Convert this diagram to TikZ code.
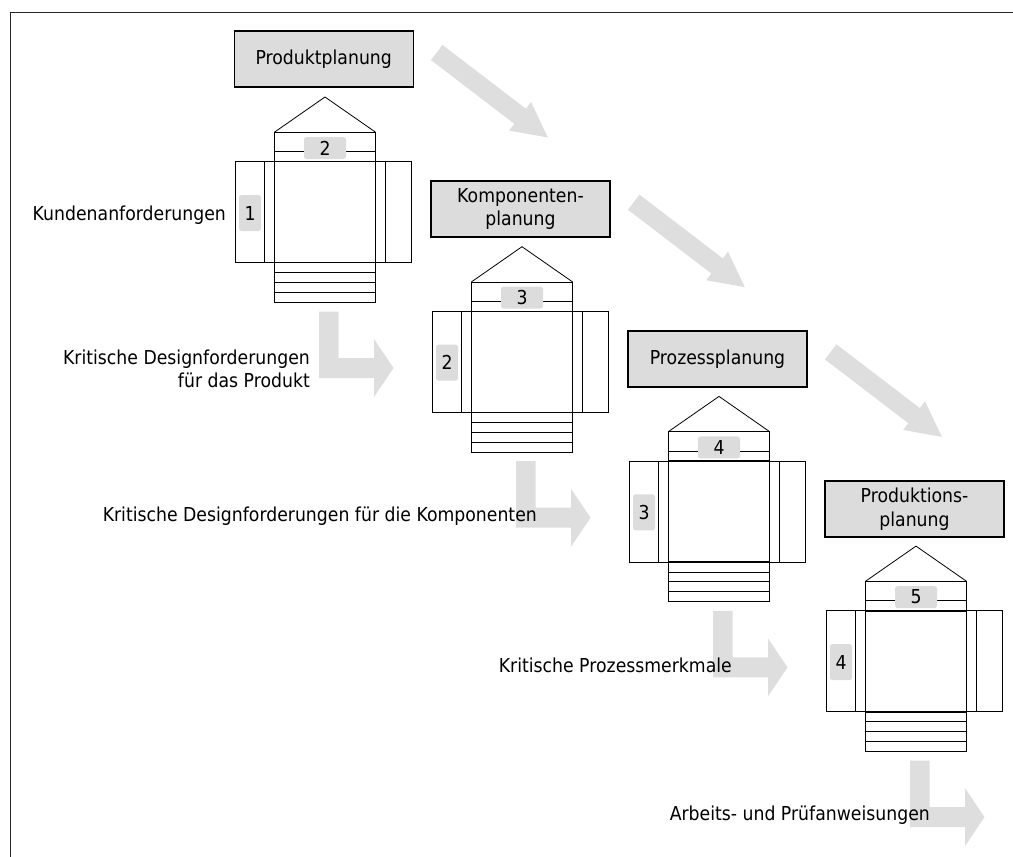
\documentclass[tikz,border=0pt]{standalone}
\usepackage{fontspec}
\setmainfont{DejaVu Sans}[FakeStretch=0.9]
\definecolor{boxgray}{RGB}{220,220,220}
\definecolor{arrgray}{RGB}{222,222,222}
\begin{document}
\begin{tikzpicture}[x=1pt,y=-1pt,
  txt/.style={font=\fontsize{19.2}{23.5}\selectfont, inner sep=0pt},
  hdr/.style={txt, draw=black, line width=1.2pt, fill=boxgray, minimum width=179pt, minimum height=56pt, align=center},
  lbl/.style={txt, fill=boxgray, rounded corners=2.5pt},
  ln/.style={line width=0.8pt, draw=black},
  sq/.style={line width=1.4pt, draw=black},
  garrow/.style={fill=arrgray, draw=none}]
\useasboundingbox (0,0) rectangle (1013,857);
% frame
\draw[line width=1.4pt, draw=black!85] (10.7,857) -- (10.7,12.3) -- (1013,12.3);
% diagonal arrows
\foreach \i in {0,1,2}{
  \begin{scope}[shift={({436.7+197*\i},{52.5+149.7*\i})}, rotate=-37.4]
    \fill[garrow] (0,-9.5) -- (105,-9.5) -- (105,-18) -- (140,0) -- (105,18) -- (105,9.5) -- (0,9.5) -- cycle;
  \end{scope}
}
% houses
\foreach \i/\a/\b in {0/1/2,1/2/3,2/3/4,3/4/5}{
  \begin{scope}[shift={({197*\i},{149.7*\i})}]
    % L arrow
    \fill[garrow] (319,311.5) -- (338.7,311.5) -- (338.7,358) -- (374,358) -- (374,339) -- (393.5,368) -- (374,397) -- (374,378) -- (319,378) -- cycle;
    % roof
    \draw[ln] (274.3,132.3) -- (325,97) -- (375.7,132.3);
    % strip verticals
    \draw[ln] (274.3,132.3) -- (274.3,302.3);
    \draw[ln] (375.7,132.3) -- (375.7,302.3);
    % top strip lines
    \draw[ln] (274.3,132.3) -- (375.7,132.3);
    \draw[ln] (274.3,151.7) -- (375.7,151.7);
    % wings
    \draw[ln] (235,161.7) rectangle (274.3,262.7);
    \draw[ln] (264.3,161.7) -- (264.3,262.7);
    \draw[ln] (375.7,161.7) rectangle (411.7,262.7);
    \draw[ln] (385.7,161.7) -- (385.7,262.7);
    % bottom lines
    \foreach \y in {272.7,282.3,292.3,302.3}{\draw[ln] (274.3,\y) -- (375.7,\y);}
    % main square
    \draw[sq] (274.3,161.7) rectangle (375.7,262.7);
    % labels
    \node[lbl, minimum width=42pt, minimum height=22pt] (top\b) at (325,148) {\b};
    \node[lbl, minimum width=22pt, minimum height=36pt] (left\a) at (250,213) {\a};
  \end{scope}
}
% header boxes
\node[hdr] (h1) at (323.7,59) {Produktplanung};
\node[hdr] (h2) at (520.5,209) {Komponenten-\\planung};
\node[hdr] (h3) at (717.5,359) {Prozessplanung};
\node[hdr] (h4) at (914.5,509) {Produktions-\\planung};
% texts
\node[txt, anchor=east, align=right] (t1) at (226,215) {Kundenanforderungen};
\node[txt, anchor=east, align=right] (t2) at (310,369) {Kritische Designforderungen\\für das Produkt};
\node[txt, anchor=east] (t3) at (537,516) {Kritische Designforderungen für die Komponenten};
\node[txt, anchor=east] (t4) at (732,665) {Kritische Prozessmerkmale};
\node[txt, anchor=east] (t5) at (930,815) {Arbeits- und Prüfanweisungen};
\end{tikzpicture}
\end{document}
